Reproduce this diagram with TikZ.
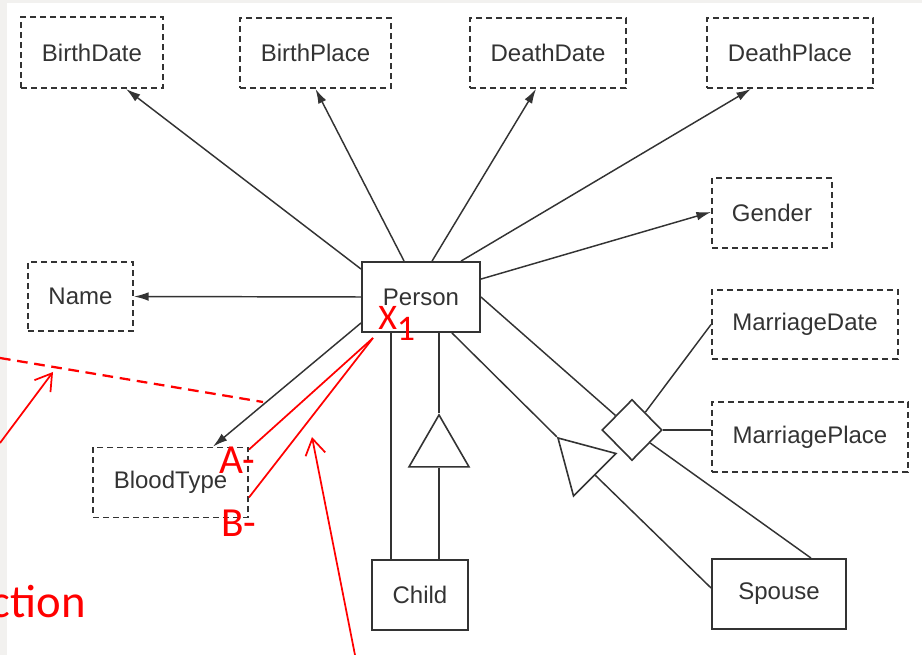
\documentclass[tikz,border=0pt]{standalone}
\usepackage{fontspec}
\setmainfont{Liberation Sans}
\newfontfamily\notefont{Carlito}
\usetikzlibrary{arrows.meta,calc,shapes.geometric}
\definecolor{ink}{RGB}{51,51,51}
\definecolor{note}{RGB}{255,0,0}
\definecolor{edge}{RGB}{242,241,239}
\begin{document}
\begin{tikzpicture}[x=0.75pt,y=-0.75pt,
  box/.style 2 args={draw=ink,line width=1.4pt,inner sep=0pt,
    minimum width=#1*0.75pt,minimum height=#2*0.75pt,
    font=\fontsize{18pt}{20pt}\selectfont,text=ink},
  attr/.style={dash pattern=on 4.5pt off 3pt},
  conn/.style={draw=ink,line width=1.1pt},
  arr/.style={conn,-{Latex[length=11pt,width=6.5pt]}},
  tri/.style={draw=ink,line width=1.2pt,regular polygon,regular polygon sides=3,
    minimum size=52pt,inner sep=0pt},
  redline/.style={draw=note,line width=1.3pt},
  redarrow/.style={redline,-{Straight Barb[length=12pt,width=15pt,line width=1.3pt]}},
  notetext/.style={text=note,inner sep=0pt}]
\useasboundingbox (0,0) rectangle (922,655);
% page edge
\fill[edge] (0,0) rectangle (922,3);
\fill[edge] (0,0) rectangle (7,655);

% attribute boxes
\node[box={142}{71},attr] (bd) at (92,52.5)  {BirthDate};
\node[box={151}{70},attr] (bp) at (315.5,53) {BirthPlace};
\node[box={156}{70},attr] (dd) at (548,53)   {DeathDate};
\node[box={166}{70},attr] (dp) at (790,53)   {DeathPlace};
\node[box={120}{70},attr] (gender) at (772,213) {Gender};
\node[box={105}{69},attr] (name) at (80.5,296.5) {Name};
\node[box={186}{69},attr] (md) at (805,324.5) {MarriageDate};
\node[box={196}{70},attr] (mp) at (810,437) {MarriagePlace};
\node[box={155}{70},attr] (bt) at (170.5,482.5) {BloodType};

% entities
\node[box={118}{70}] (person) at (421,297) {Person};
\node[box={96}{70}]  (child)  at (420,595) {Child};
\node[box={134}{70}] (spouse) at (779,594) {Spouse};

% relationship and generalisation markers
\node[draw=ink,line width=1.2pt,diamond,inner sep=0pt,
      minimum width=45pt,minimum height=45.75pt] (dia) at (632,430) {};
\node[tri] (tc) at (439,449.6) {};
\node[tri,shape border rotate=45] (ts) at (582.5,462.5) {};

% attribute links
\draw[arr] ($(person.north west)+(0,8)$)   -- ($(bd.south)+(34,0)$);
\draw[arr] ($(person.north west)+(43,0)$)  -- (bp.south);
\draw[arr] ($(person.north west)+(71,0)$)  -- ($(dd.south)+(-12,0)$);
\draw[arr] ($(person.north west)+(100,0)$) -- ($(dp.south)+(-39,0)$);
\draw[arr] ($(person.north east)+(0,18)$)  -- ($(gender.west)+(0,-1)$);
\draw[arr] (person.west) -- (name.east);
\draw[arr] ($(person.south west)+(0,-10)$) -- ($(bt.north)+(42.5,0)$);

% marriage relationship
\draw[conn] (person.east) -- (dia);
\draw[conn] (dia) -- (md.west);
\draw[conn] (dia.east) -- (dia.east -| mp.west);
\draw[conn] (dia) -- ($(spouse.north)+(32,0)$);

% child links
\coordinate (cl) at ($(person.south west)+(30,0)$);
\draw[conn] (cl) -- (cl |- child.north);
\draw[conn] (tc.corner 1 |- person.south) -- (tc.corner 1);
\draw[conn] (tc.side 2) -- (tc.side 2 |- child.north);

% spouse link
\draw[conn] ($(person.south east)+(-29,0)$) -- (ts.corner 1);
\draw[conn] (ts.side 2) -- ($(spouse.west)+(0,-6)$);

% annotations
\coordinate (d1) at (0,358);
\coordinate (d2) at (263,402);
\draw[redline,line width=1.7pt,dash pattern=on 8pt off 5pt] (d1) -- (d2);
\coordinate (a1) at (0,443);
\coordinate (a2) at (53,372);
\draw[redarrow] (a1) -- (a2);
\coordinate (b1) at (355,655);
\coordinate (b2) at (312,437);
\draw[redarrow] (b1) -- (b2);
\coordinate (x0) at (373,338);
\draw[redline] (x0) -- ($(bt.north east)+(0,3)$);
\draw[redline] (x0) -- ($(bt.east)+(0,15)$);

\node[notetext,anchor=base west,font=\notefont\fontsize{27pt}{30pt}\selectfont]
  (xl) at (378,330) {X\raisebox{-8.25pt}{1}};
\node[notetext,anchor=base west,font=\notefont\fontsize{31pt}{34pt}\selectfont]
  (al) at (219,474) {A-};
\node[notetext,anchor=base west,font=\notefont\fontsize{31pt}{34pt}\selectfont]
  (bl) at (221,537) {B-};
\node[notetext,anchor=base east,font=\notefont\fontsize{35pt}{38pt}\selectfont]
  (ct) at (86,618) {ction};
\end{tikzpicture}
\end{document}
